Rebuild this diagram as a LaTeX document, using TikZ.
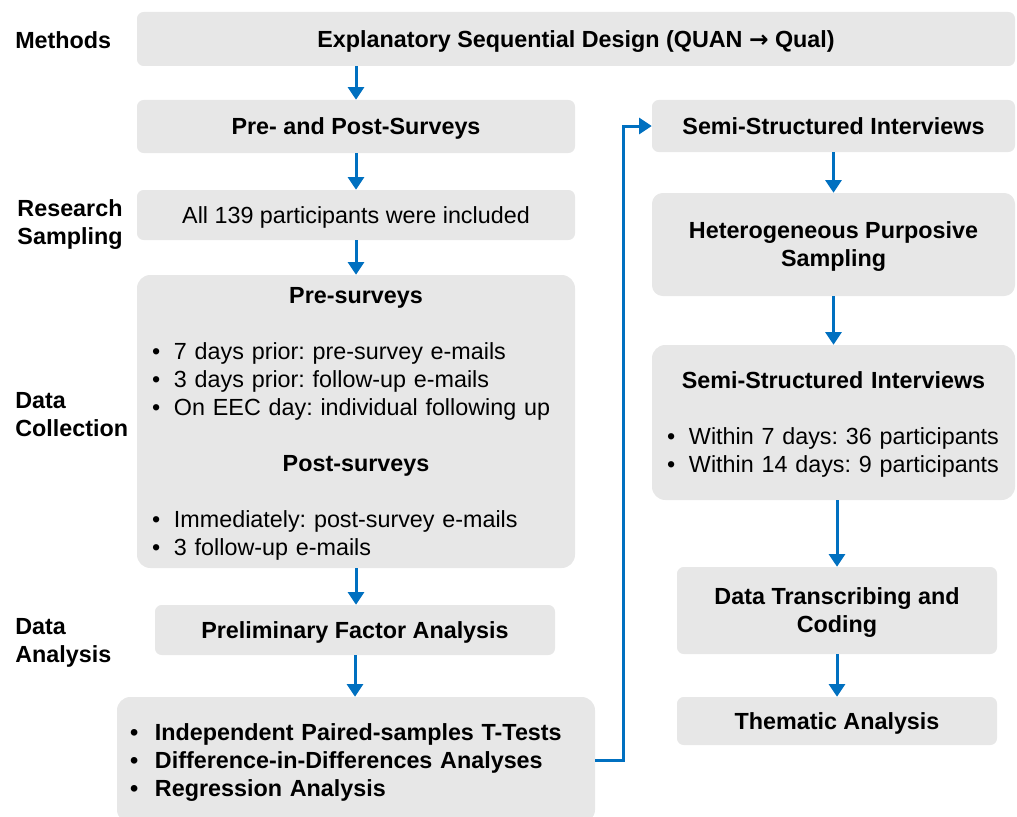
\documentclass[tikz,border=0pt]{standalone}
\usepackage{fontspec}
\setmainfont{Liberation Sans}
\newfontfamily\arrowfont{DejaVu Sans}
\usetikzlibrary{arrows.meta}
\definecolor{boxgray}{RGB}{231,231,231}
\definecolor{flowblue}{RGB}{0,112,192}
\newcommand{\blt}[1][16.5pt]{\makebox[#1][l]{\textbullet}}
\tikzset{
	box/.style={fill=boxgray, rounded corners=5pt, inner sep=0pt, align=center, text depth=0pt, font=\fontsize{17.5}{21}\selectfont\frenchspacing},
	boldbox/.style={box, font=\fontsize{17.5}{21}\selectfont\frenchspacing\bfseries},
	listbox/.style={box, rounded corners=10pt, align=left},
	rowlabel/.style={inner sep=0pt, text depth=0pt, font=\fontsize{17.5}{21}\selectfont\bfseries},
	flow/.style={draw=flowblue, line width=2.25pt, -{Triangle[width=12pt,length=9.5pt]}}
}

\begin{document}
\begin{tikzpicture}[x=0.75pt,y=-0.75pt]
			\useasboundingbox (0,0) rectangle (1017,817);
			\node [rowlabel, at={(15,40)}, anchor=west] (methods) {Methods};
			\node [rowlabel, at={(70,222)}, align=center] (sampling) {Research\\Sampling};
			\node [rowlabel, at={(15,414)}, anchor=west, align=left] (collection) {Data\\Collection};
			\node [rowlabel, at={(15,640)}, anchor=west, align=left] (analysis) {Data\\Analysis};
			\node [boldbox, at={(576,39)}, minimum width=658.5pt, minimum height=40.5pt] (design) {Explanatory Sequential Design (QUAN {\arrowfont\bfseries →} Qual)};
			\node [boldbox, at={(356,126.5)}, minimum width=328.5pt, minimum height=39.75pt] (surveys) {Pre- and Post-Surveys};
			\node [box, at={(356,215)}, minimum width=328.5pt, minimum height=37.5pt] (all) {All 139 participants were included};
			\node [listbox, at={(356,421.5)}, text width=306pt, inner xsep=11.25pt, minimum height=219.75pt, text depth=189pt] (collect) {%
				{\centering\bfseries Pre-surveys\par}\vspace{21pt}%
				\blt 7 days prior: pre-survey e-mails\\
				\blt 3 days prior: follow-up e-mails\\
				\blt On EEC day: individual following up\par\vspace{21pt}%
				{\centering\bfseries Post-surveys\par}\vspace{21pt}%
				\blt Immediately: post-survey e-mails\\
				\blt 3 follow-up e-mails};
			\node [boldbox, at={(355,630)}, minimum width=300pt, minimum height=37.5pt] (prelim) {Preliminary Factor Analysis};
			\node [listbox, font=\fontsize{17.5}{21}\selectfont\frenchspacing\bfseries, at={(356,760)}, text width=339pt, inner xsep=9.75pt, minimum height=94.5pt, text depth=42pt] (tests) {%
				\blt[18.75pt]Independent Paired-samples T-Tests\\
				\blt[18.75pt]Difference-in-Differences Analyses\\
				\blt[18.75pt]Regression Analysis};
			\node [boldbox, at={(833.5,126)}, minimum width=272.25pt, minimum height=39pt] (semi) {Semi-Structured Interviews};
			\node [boldbox, rounded corners=8pt, at={(833.5,244.5)}, minimum width=272.25pt, minimum height=77.25pt] (hetero) {Heterogeneous Purposive\\Sampling};
			\node [listbox, at={(833.5,422.5)}, text width=249.75pt, inner xsep=11.25pt, minimum height=116.25pt, text depth=63pt] (interviews) {%
				{\centering\bfseries Semi-Structured Interviews\par}\vspace{21pt}%
				\blt Within 7 days: 36 participants\\
				\blt Within 14 days: 9 participants};
			\node [boldbox, at={(837,610.5)}, minimum width=240pt, minimum height=65.25pt] (coding) {Data Transcribing and\\Coding};
			\node [boldbox, at={(837,721)}, minimum width=240pt, minimum height=36pt] (thematic) {Thematic Analysis};
			\draw [flow] (surveys.north |- design.south) -- (surveys.north);
			\draw [flow] (surveys) -- (all);
			\draw [flow] (all) -- (collect);
			\draw [flow] (collect) -- (prelim.north -| collect);
			\draw [flow] (prelim) -- (tests.north -| prelim);
			\draw [flow] (tests.east) -- ++(28,0) |- (semi.west);
			\draw [flow] (semi) -- (hetero);
			\draw [flow] (hetero) -- (interviews);
			\draw [flow] (interviews.south -| coding) -- (coding);
			\draw [flow] (coding) -- (thematic);
			\end{tikzpicture}
\end{document}
